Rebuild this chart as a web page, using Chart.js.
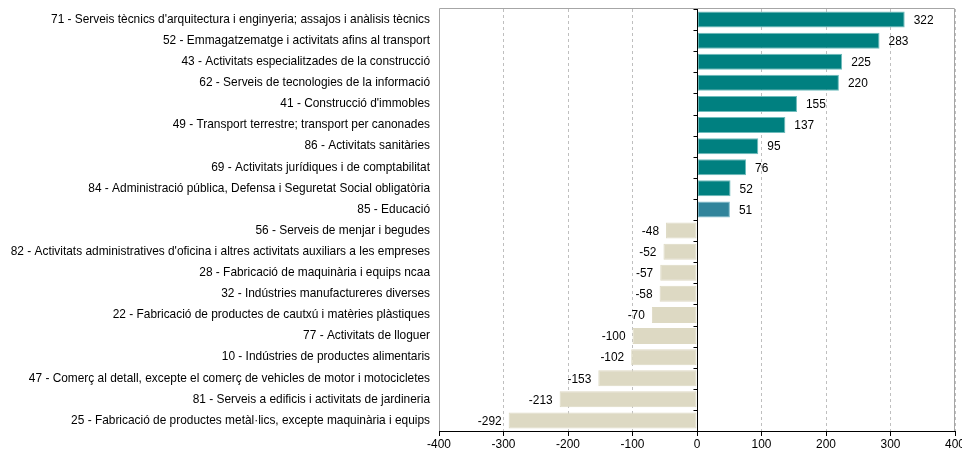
<!DOCTYPE html>
<html><head><meta charset="utf-8">
<script src="https://cdn.jsdelivr.net/npm/chart.js@4"></script>
<style>html,body{margin:0;padding:0;background:#fff}#wrap{width:962px;height:450px}</style>
</head><body><div id="wrap"><canvas id="c"></canvas></div>
<script>
const categories = [
"71 - Serveis tècnics d'arquitectura i enginyeria; assajos i anàlisis tècnics",
"52 - Emmagatzematge i activitats afins al transport",
"43 - Activitats especialitzades de la construcció",
"62 - Serveis de tecnologies de la informació",
"41 - Construcció d'immobles",
"49 - Transport terrestre; transport per canonades",
"86 - Activitats sanitàries",
"69 - Activitats jurídiques i de comptabilitat",
"84 - Administració pública, Defensa i Seguretat Social obligatòria",
"85 - Educació",
"56 - Serveis de menjar i begudes",
"82 - Activitats administratives d'oficina i altres activitats auxiliars a les empreses",
"28 - Fabricació de maquinària i equips ncaa",
"32 - Indústries manufactureres diverses",
"22 - Fabricació de productes de cautxú i matèries plàstiques",
"77 - Activitats de lloguer",
"10 - Indústries de productes alimentaris",
"47 - Comerç al detall, excepte el comerç de vehicles de motor i motocicletes",
"81 - Serveis a edificis i activitats de jardineria",
"25 - Fabricació de productes metàl·lics, excepte maquinària i equips"
];
const values = [322,283,225,220,155,137,95,76,52,51,-48,-52,-57,-58,-70,-100,-102,-153,-213,-292];
const highlighted = ["85 - Educació"];
const xTicks = [-400,-300,-200,-100,0,100,200,300,400];

const colPos = '#008080', colHi = '#31849B', colNeg = '#DDD9C3';
const bg = categories.map((c,i)=> highlighted.includes(c) ? colHi : (values[i] >= 0 ? colPos : colNeg));
const bd = categories.map((c,i)=> highlighted.includes(c) ? '#7fbccb' : (values[i] >= 0 ? '#6fbcbc' : colNeg));

const FONT = '"Liberation Sans", Arial, sans-serif';

const overlay = {
  id:'overlay',
  afterDatasetsDraw(chart){
    const {ctx, chartArea:a, scales:{x,y}} = chart;
    ctx.save();
    ctx.strokeStyle = '#a6a6a6'; ctx.lineWidth = 1; ctx.setLineDash([]);
    ctx.beginPath();
    ctx.moveTo(Math.round(a.left)+0.5, Math.round(a.bottom));
    ctx.lineTo(Math.round(a.left)+0.5, Math.round(a.top)-0.5);
    ctx.lineTo(Math.round(a.right)-0.5, Math.round(a.top)-0.5);
    ctx.lineTo(Math.round(a.right)-0.5, Math.round(a.bottom));
    ctx.stroke();
    const x0 = Math.round(x.getPixelForValue(0))+0.5;
    ctx.strokeStyle = '#000';
    ctx.beginPath(); ctx.moveTo(x0, a.top); ctx.lineTo(x0, a.bottom); ctx.stroke();
    const n = categories.length;
    const step = (a.bottom - a.top)/n;
    ctx.beginPath();
    for(let i=0;i<=n;i++){ const yy = Math.round(a.top + i*step)+0.5; ctx.moveTo(x0-4, yy); ctx.lineTo(x0, yy); }
    ctx.stroke();
    ctx.beginPath(); ctx.moveTo(a.left, Math.round(a.bottom)+0.5); ctx.lineTo(a.right, Math.round(a.bottom)+0.5); ctx.stroke();
    ctx.fillStyle = '#000'; ctx.font = '11.9px ' + FONT; ctx.textBaseline = 'middle';
    values.forEach((v,i)=>{
      const px = x.getPixelForValue(v), py = y.getPixelForValue(i);
      if (v >= 0){ ctx.textAlign='left'; ctx.fillText(String(v), px+9, py+1); }
      else { ctx.textAlign='right'; ctx.fillText(String(v), px-7, py+1); }
    });
    ctx.restore();
  }
};

new Chart(document.getElementById('c'), {
  type:'bar',
  data:{ labels:categories, datasets:[{ data:values, backgroundColor:bg, borderColor:bd, borderWidth:1, borderSkipped:false, barPercentage:0.76, categoryPercentage:1 }]},
  options:{
    indexAxis:'y', responsive:true, maintainAspectRatio:false, animation:false,
    layout:{ padding:{ top:9, right:0, bottom:0, left:0 } },
    plugins:{ legend:{display:false}, tooltip:{enabled:false} },
    scales:{
      x:{ min:-400, max:400, afterBuildTicks(s){ s.ticks = xTicks.map(v=>({value:v})); },
          grid:{ color:'#bfbfbf', tickColor:'#000', tickLength:5, tickBorderDash:[], drawOnChartArea:true },
          border:{ display:false, dash:[3,3] },
          ticks:{ color:'#000', font:{family:FONT, size:11.9}, padding:2, maxRotation:0 },
          afterFit(s){ s.height = 19; s.paddingLeft = 0; s.paddingRight = 7; } },
      y:{ grid:{display:false, drawTicks:false}, border:{display:false},
          ticks:{ color:'#000', font:{family:FONT, size:11.9}, padding:9, autoSkip:false },
          afterFit(s){ s.width = 439; s.paddingTop = 0; s.paddingBottom = 0; } }
    }
  },
  plugins:[overlay]
});
</script></body></html>
